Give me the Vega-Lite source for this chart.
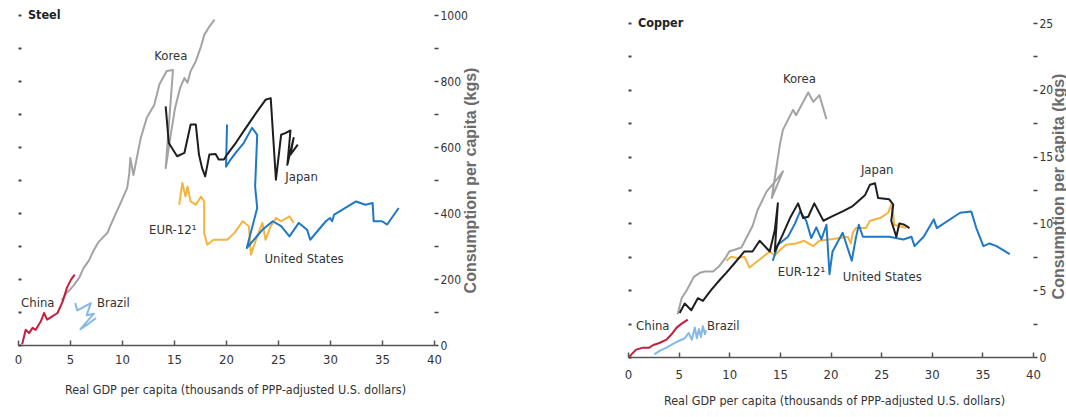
{
  "$schema": "https://vega.github.io/schema/vega-lite/v6.json",
  "padding": {"left": 14, "top": 9, "right": 0, "bottom": 0},
  "bounds": "flush",
  "spacing": 194,
  "config": {
    "view": {"stroke": null},
    "font": "DejaVu Sans Condensed, sans-serif",
    "axis": {
      "grid": false,
      "labelFont": "DejaVu Sans Condensed, sans-serif",
      "labelFontSize": 13,
      "labelColor": "#333333",
      "tickColor": "#444444",
      "domainColor": "#555555",
      "labelOverlap": false,
      "labelFlush": false
    }
  },
  "datasets": {
    "steel": [
      {"country": "Korea", "gdp": 4.2, "kg": 135}, {"country": "Korea", "gdp": 4.6, "kg": 155}, {"country": "Korea", "gdp": 5.0, "kg": 168},
      {"country": "Korea", "gdp": 5.4, "kg": 182}, {"country": "Korea", "gdp": 5.9, "kg": 205}, {"country": "Korea", "gdp": 6.3, "kg": 233},
      {"country": "Korea", "gdp": 6.8, "kg": 255}, {"country": "Korea", "gdp": 7.3, "kg": 288}, {"country": "Korea", "gdp": 7.7, "kg": 310},
      {"country": "Korea", "gdp": 8.1, "kg": 324}, {"country": "Korea", "gdp": 8.6, "kg": 340}, {"country": "Korea", "gdp": 9.0, "kg": 370},
      {"country": "Korea", "gdp": 9.5, "kg": 405}, {"country": "Korea", "gdp": 10.0, "kg": 440}, {"country": "Korea", "gdp": 10.5, "kg": 476},
      {"country": "Korea", "gdp": 10.7, "kg": 520}, {"country": "Korea", "gdp": 10.8, "kg": 567}, {"country": "Korea", "gdp": 11.1, "kg": 515},
      {"country": "Korea", "gdp": 11.8, "kg": 627}, {"country": "Korea", "gdp": 12.4, "kg": 690}, {"country": "Korea", "gdp": 13.1, "kg": 727},
      {"country": "Korea", "gdp": 13.6, "kg": 790}, {"country": "Korea", "gdp": 14.3, "kg": 830}, {"country": "Korea", "gdp": 14.9, "kg": 833},
      {"country": "Korea", "gdp": 14.2, "kg": 536}, {"country": "Korea", "gdp": 14.7, "kg": 640}, {"country": "Korea", "gdp": 15.1, "kg": 718},
      {"country": "Korea", "gdp": 15.6, "kg": 780}, {"country": "Korea", "gdp": 16.0, "kg": 809}, {"country": "Korea", "gdp": 16.3, "kg": 795},
      {"country": "Korea", "gdp": 16.6, "kg": 830}, {"country": "Korea", "gdp": 17.1, "kg": 860}, {"country": "Korea", "gdp": 17.6, "kg": 905},
      {"country": "Korea", "gdp": 17.9, "kg": 939}, {"country": "Korea", "gdp": 18.4, "kg": 965}, {"country": "Korea", "gdp": 18.9, "kg": 986},

      {"country": "EUR-12", "gdp": 15.5, "kg": 425}, {"country": "EUR-12", "gdp": 15.8, "kg": 491}, {"country": "EUR-12", "gdp": 16.1, "kg": 450},
      {"country": "EUR-12", "gdp": 16.3, "kg": 480}, {"country": "EUR-12", "gdp": 16.6, "kg": 435}, {"country": "EUR-12", "gdp": 17.1, "kg": 425},
      {"country": "EUR-12", "gdp": 17.6, "kg": 450}, {"country": "EUR-12", "gdp": 17.9, "kg": 435}, {"country": "EUR-12", "gdp": 17.9, "kg": 339},
      {"country": "EUR-12", "gdp": 18.2, "kg": 304}, {"country": "EUR-12", "gdp": 18.8, "kg": 319}, {"country": "EUR-12", "gdp": 20.1, "kg": 319},
      {"country": "EUR-12", "gdp": 20.8, "kg": 339}, {"country": "EUR-12", "gdp": 21.6, "kg": 375}, {"country": "EUR-12", "gdp": 22.2, "kg": 360},
      {"country": "EUR-12", "gdp": 22.4, "kg": 274}, {"country": "EUR-12", "gdp": 23.0, "kg": 330}, {"country": "EUR-12", "gdp": 23.5, "kg": 370},
      {"country": "EUR-12", "gdp": 23.8, "kg": 319}, {"country": "EUR-12", "gdp": 24.3, "kg": 360}, {"country": "EUR-12", "gdp": 24.8, "kg": 385},
      {"country": "EUR-12", "gdp": 25.3, "kg": 375}, {"country": "EUR-12", "gdp": 26.1, "kg": 390}, {"country": "EUR-12", "gdp": 26.5, "kg": 370},

      {"country": "United States", "gdp": 20.1, "kg": 668}, {"country": "United States", "gdp": 20.0, "kg": 540}, {"country": "United States", "gdp": 20.4, "kg": 560},
      {"country": "United States", "gdp": 21.0, "kg": 585}, {"country": "United States", "gdp": 21.7, "kg": 612}, {"country": "United States", "gdp": 22.5, "kg": 658},
      {"country": "United States", "gdp": 23.0, "kg": 637}, {"country": "United States", "gdp": 22.8, "kg": 480}, {"country": "United States", "gdp": 23.0, "kg": 415},
      {"country": "United States", "gdp": 22.0, "kg": 294}, {"country": "United States", "gdp": 23.5, "kg": 349}, {"country": "United States", "gdp": 24.5, "kg": 375},
      {"country": "United States", "gdp": 25.3, "kg": 360}, {"country": "United States", "gdp": 26.1, "kg": 329}, {"country": "United States", "gdp": 27.0, "kg": 370},
      {"country": "United States", "gdp": 27.8, "kg": 349}, {"country": "United States", "gdp": 28.1, "kg": 319}, {"country": "United States", "gdp": 29.6, "kg": 375},
      {"country": "United States", "gdp": 30.0, "kg": 385}, {"country": "United States", "gdp": 30.2, "kg": 375}, {"country": "United States", "gdp": 30.4, "kg": 395},
      {"country": "United States", "gdp": 31.2, "kg": 410}, {"country": "United States", "gdp": 32.5, "kg": 435}, {"country": "United States", "gdp": 33.4, "kg": 425},
      {"country": "United States", "gdp": 34.1, "kg": 430}, {"country": "United States", "gdp": 34.2, "kg": 375}, {"country": "United States", "gdp": 35.0, "kg": 375},
      {"country": "United States", "gdp": 35.5, "kg": 365}, {"country": "United States", "gdp": 36.6, "kg": 415},

      {"country": "Japan", "gdp": 14.2, "kg": 723}, {"country": "Japan", "gdp": 14.5, "kg": 612}, {"country": "Japan", "gdp": 15.3, "kg": 572},
      {"country": "Japan", "gdp": 16.0, "kg": 582}, {"country": "Japan", "gdp": 16.6, "kg": 668}, {"country": "Japan", "gdp": 17.1, "kg": 668},
      {"country": "Japan", "gdp": 17.4, "kg": 577}, {"country": "Japan", "gdp": 17.7, "kg": 536}, {"country": "Japan", "gdp": 18.0, "kg": 511},
      {"country": "Japan", "gdp": 18.4, "kg": 577}, {"country": "Japan", "gdp": 19.0, "kg": 579}, {"country": "Japan", "gdp": 19.3, "kg": 562},
      {"country": "Japan", "gdp": 19.8, "kg": 562}, {"country": "Japan", "gdp": 20.1, "kg": 577}, {"country": "Japan", "gdp": 21.0, "kg": 615},
      {"country": "Japan", "gdp": 21.7, "kg": 648}, {"country": "Japan", "gdp": 23.0, "kg": 708}, {"country": "Japan", "gdp": 23.8, "kg": 743},
      {"country": "Japan", "gdp": 24.3, "kg": 748}, {"country": "Japan", "gdp": 24.8, "kg": 501}, {"country": "Japan", "gdp": 25.3, "kg": 637},
      {"country": "Japan", "gdp": 25.7, "kg": 642}, {"country": "Japan", "gdp": 26.2, "kg": 650}, {"country": "Japan", "gdp": 25.9, "kg": 546},
      {"country": "Japan", "gdp": 26.5, "kg": 627}, {"country": "Japan", "gdp": 26.2, "kg": 577}, {"country": "Japan", "gdp": 26.9, "kg": 607},

      {"country": "Brazil", "gdp": 5.5, "kg": 127}, {"country": "Brazil", "gdp": 5.7, "kg": 105}, {"country": "Brazil", "gdp": 6.3, "kg": 115},
      {"country": "Brazil", "gdp": 7.0, "kg": 127}, {"country": "Brazil", "gdp": 6.6, "kg": 90}, {"country": "Brazil", "gdp": 7.3, "kg": 95},
      {"country": "Brazil", "gdp": 6.0, "kg": 48}, {"country": "Brazil", "gdp": 6.8, "kg": 65}, {"country": "Brazil", "gdp": 7.5, "kg": 82},

      {"country": "China", "gdp": 0.4, "kg": 2}, {"country": "China", "gdp": 0.74, "kg": 46}, {"country": "China", "gdp": 1.06, "kg": 36},
      {"country": "China", "gdp": 1.4, "kg": 52}, {"country": "China", "gdp": 1.7, "kg": 46}, {"country": "China", "gdp": 2.2, "kg": 72},
      {"country": "China", "gdp": 2.5, "kg": 97}, {"country": "China", "gdp": 2.8, "kg": 77}, {"country": "China", "gdp": 3.3, "kg": 87},
      {"country": "China", "gdp": 3.8, "kg": 97}, {"country": "China", "gdp": 4.3, "kg": 132}, {"country": "China", "gdp": 4.7, "kg": 173},
      {"country": "China", "gdp": 5.1, "kg": 198}, {"country": "China", "gdp": 5.45, "kg": 213}
    ],
    "copper": [
      {"country": "Korea", "gdp": 4.9, "kg": 3.2}, {"country": "Korea", "gdp": 5.3, "kg": 4.4}, {"country": "Korea", "gdp": 5.8, "kg": 5.0},
      {"country": "Korea", "gdp": 6.5, "kg": 6.0}, {"country": "Korea", "gdp": 7.1, "kg": 6.3}, {"country": "Korea", "gdp": 7.6, "kg": 6.4},
      {"country": "Korea", "gdp": 8.4, "kg": 6.4}, {"country": "Korea", "gdp": 9.0, "kg": 6.8}, {"country": "Korea", "gdp": 9.7, "kg": 7.5},
      {"country": "Korea", "gdp": 10.0, "kg": 7.9}, {"country": "Korea", "gdp": 11.2, "kg": 8.2}, {"country": "Korea", "gdp": 12.3, "kg": 9.8},
      {"country": "Korea", "gdp": 12.8, "kg": 11.0}, {"country": "Korea", "gdp": 13.7, "kg": 12.4}, {"country": "Korea", "gdp": 14.5, "kg": 13.1},
      {"country": "Korea", "gdp": 15.3, "kg": 13.9}, {"country": "Korea", "gdp": 14.2, "kg": 11.9}, {"country": "Korea", "gdp": 15.0, "kg": 15.9},
      {"country": "Korea", "gdp": 15.3, "kg": 17.0}, {"country": "Korea", "gdp": 16.3, "kg": 18.5}, {"country": "Korea", "gdp": 16.6, "kg": 18.1},
      {"country": "Korea", "gdp": 17.8, "kg": 19.8}, {"country": "Korea", "gdp": 18.3, "kg": 19.1}, {"country": "Korea", "gdp": 18.9, "kg": 19.6},
      {"country": "Korea", "gdp": 19.6, "kg": 17.8},

      {"country": "EUR-12", "gdp": 9.7, "kg": 7.2}, {"country": "EUR-12", "gdp": 10.2, "kg": 7.5}, {"country": "EUR-12", "gdp": 10.8, "kg": 7.4},
      {"country": "EUR-12", "gdp": 11.5, "kg": 7.5}, {"country": "EUR-12", "gdp": 12.0, "kg": 6.7}, {"country": "EUR-12", "gdp": 12.5, "kg": 7.0},
      {"country": "EUR-12", "gdp": 13.0, "kg": 7.3}, {"country": "EUR-12", "gdp": 14.0, "kg": 7.9}, {"country": "EUR-12", "gdp": 14.5, "kg": 7.6},
      {"country": "EUR-12", "gdp": 15.0, "kg": 8.0}, {"country": "EUR-12", "gdp": 15.6, "kg": 8.4}, {"country": "EUR-12", "gdp": 16.6, "kg": 8.5},
      {"country": "EUR-12", "gdp": 17.4, "kg": 8.7}, {"country": "EUR-12", "gdp": 18.3, "kg": 8.3}, {"country": "EUR-12", "gdp": 18.9, "kg": 8.7},
      {"country": "EUR-12", "gdp": 19.9, "kg": 8.8}, {"country": "EUR-12", "gdp": 20.9, "kg": 8.9}, {"country": "EUR-12", "gdp": 21.7, "kg": 9.0},
      {"country": "EUR-12", "gdp": 22.0, "kg": 8.5}, {"country": "EUR-12", "gdp": 22.2, "kg": 9.3}, {"country": "EUR-12", "gdp": 22.5, "kg": 9.65},
      {"country": "EUR-12", "gdp": 23.5, "kg": 9.65}, {"country": "EUR-12", "gdp": 23.9, "kg": 10.2}, {"country": "EUR-12", "gdp": 24.9, "kg": 10.4},
      {"country": "EUR-12", "gdp": 25.7, "kg": 10.8}, {"country": "EUR-12", "gdp": 26.0, "kg": 11.4}, {"country": "EUR-12", "gdp": 26.2, "kg": 10.6},
      {"country": "EUR-12", "gdp": 26.3, "kg": 9.9}, {"country": "EUR-12", "gdp": 27.5, "kg": 9.65},

      {"country": "United States", "gdp": 14.3, "kg": 7.2}, {"country": "United States", "gdp": 14.8, "kg": 8.4}, {"country": "United States", "gdp": 15.8, "kg": 9.0},
      {"country": "United States", "gdp": 16.5, "kg": 10.0}, {"country": "United States", "gdp": 17.0, "kg": 10.9}, {"country": "United States", "gdp": 17.6, "kg": 10.2},
      {"country": "United States", "gdp": 18.1, "kg": 8.9}, {"country": "United States", "gdp": 18.6, "kg": 9.7}, {"country": "United States", "gdp": 19.1, "kg": 8.8},
      {"country": "United States", "gdp": 19.6, "kg": 9.9}, {"country": "United States", "gdp": 19.9, "kg": 6.2}, {"country": "United States", "gdp": 20.2, "kg": 7.9},
      {"country": "United States", "gdp": 21.2, "kg": 9.3}, {"country": "United States", "gdp": 22.1, "kg": 7.2}, {"country": "United States", "gdp": 22.5, "kg": 8.9},
      {"country": "United States", "gdp": 22.8, "kg": 9.9}, {"country": "United States", "gdp": 23.2, "kg": 9.0}, {"country": "United States", "gdp": 24.5, "kg": 9.0},
      {"country": "United States", "gdp": 25.8, "kg": 9.0}, {"country": "United States", "gdp": 27.2, "kg": 8.8}, {"country": "United States", "gdp": 28.0, "kg": 9.0},
      {"country": "United States", "gdp": 28.3, "kg": 8.3}, {"country": "United States", "gdp": 29.2, "kg": 9.0}, {"country": "United States", "gdp": 30.2, "kg": 10.3},
      {"country": "United States", "gdp": 30.5, "kg": 9.65}, {"country": "United States", "gdp": 32.8, "kg": 10.8}, {"country": "United States", "gdp": 33.9, "kg": 10.9},
      {"country": "United States", "gdp": 34.4, "kg": 9.65}, {"country": "United States", "gdp": 35.1, "kg": 8.3}, {"country": "United States", "gdp": 35.7, "kg": 8.5},
      {"country": "United States", "gdp": 36.4, "kg": 8.3}, {"country": "United States", "gdp": 37.7, "kg": 7.7},

      {"country": "Japan", "gdp": 5.1, "kg": 3.3}, {"country": "Japan", "gdp": 5.6, "kg": 4.0}, {"country": "Japan", "gdp": 6.25, "kg": 3.5},
      {"country": "Japan", "gdp": 6.9, "kg": 4.4}, {"country": "Japan", "gdp": 7.4, "kg": 4.2}, {"country": "Japan", "gdp": 8.2, "kg": 5.0},
      {"country": "Japan", "gdp": 9.1, "kg": 5.8}, {"country": "Japan", "gdp": 9.7, "kg": 6.3}, {"country": "Japan", "gdp": 10.5, "kg": 7.0},
      {"country": "Japan", "gdp": 11.5, "kg": 7.9}, {"country": "Japan", "gdp": 12.3, "kg": 7.9}, {"country": "Japan", "gdp": 13.0, "kg": 8.7},
      {"country": "Japan", "gdp": 14.0, "kg": 7.9}, {"country": "Japan", "gdp": 14.5, "kg": 9.5}, {"country": "Japan", "gdp": 14.8, "kg": 11.5},
      {"country": "Japan", "gdp": 14.5, "kg": 7.9}, {"country": "Japan", "gdp": 15.3, "kg": 9.2}, {"country": "Japan", "gdp": 16.0, "kg": 10.4},
      {"country": "Japan", "gdp": 16.8, "kg": 11.5}, {"country": "Japan", "gdp": 17.3, "kg": 10.4}, {"country": "Japan", "gdp": 17.8, "kg": 10.5},
      {"country": "Japan", "gdp": 18.4, "kg": 11.5}, {"country": "Japan", "gdp": 19.3, "kg": 10.2}, {"country": "Japan", "gdp": 20.1, "kg": 10.5},
      {"country": "Japan", "gdp": 21.2, "kg": 10.9}, {"country": "Japan", "gdp": 22.2, "kg": 11.3}, {"country": "Japan", "gdp": 23.4, "kg": 12.1},
      {"country": "Japan", "gdp": 23.9, "kg": 12.9}, {"country": "Japan", "gdp": 24.4, "kg": 13.0}, {"country": "Japan", "gdp": 24.7, "kg": 11.9},
      {"country": "Japan", "gdp": 25.8, "kg": 11.8}, {"country": "Japan", "gdp": 26.2, "kg": 11.4}, {"country": "Japan", "gdp": 26.0, "kg": 10.2},
      {"country": "Japan", "gdp": 26.5, "kg": 9.0}, {"country": "Japan", "gdp": 26.8, "kg": 10.0}, {"country": "Japan", "gdp": 27.3, "kg": 9.9},
      {"country": "Japan", "gdp": 27.8, "kg": 9.65},

      {"country": "Brazil", "gdp": 2.6, "kg": 0.2}, {"country": "Brazil", "gdp": 3.2, "kg": 0.5}, {"country": "Brazil", "gdp": 3.8, "kg": 0.7},
      {"country": "Brazil", "gdp": 4.5, "kg": 1.0}, {"country": "Brazil", "gdp": 5.0, "kg": 1.2}, {"country": "Brazil", "gdp": 5.6, "kg": 1.4},
      {"country": "Brazil", "gdp": 6.0, "kg": 1.8}, {"country": "Brazil", "gdp": 6.3, "kg": 1.3}, {"country": "Brazil", "gdp": 6.6, "kg": 2.2},
      {"country": "Brazil", "gdp": 6.8, "kg": 1.4}, {"country": "Brazil", "gdp": 7.0, "kg": 2.1}, {"country": "Brazil", "gdp": 7.2, "kg": 1.5},
      {"country": "Brazil", "gdp": 7.4, "kg": 2.3}, {"country": "Brazil", "gdp": 7.6, "kg": 1.7}, {"country": "Brazil", "gdp": 7.7, "kg": 2.0},

      {"country": "China", "gdp": 0.15, "kg": 0.05}, {"country": "China", "gdp": 0.8, "kg": 0.55}, {"country": "China", "gdp": 1.5, "kg": 0.7},
      {"country": "China", "gdp": 2.1, "kg": 0.7}, {"country": "China", "gdp": 2.5, "kg": 0.9}, {"country": "China", "gdp": 3.1, "kg": 1.05},
      {"country": "China", "gdp": 3.8, "kg": 1.3}, {"country": "China", "gdp": 4.3, "kg": 1.7}, {"country": "China", "gdp": 4.8, "kg": 2.2},
      {"country": "China", "gdp": 5.3, "kg": 2.5}, {"country": "China", "gdp": 5.9, "kg": 2.8}
    ],
    "steelNames": [
      {"label": "Korea", "gdp": 13.1, "kg": 877},
      {"label": "Japan", "gdp": 25.7, "kg": 510},
      {"label": "EUR-12¹", "gdp": 12.6, "kg": 348},
      {"label": "United States", "gdp": 23.7, "kg": 262},
      {"label": "China", "gdp": 0.3, "kg": 127},
      {"label": "Brazil", "gdp": 7.6, "kg": 127}
    ],
    "copperNames": [
      {"label": "Korea", "gdp": 15.3, "kg": 20.8},
      {"label": "Japan", "gdp": 23.0, "kg": 14.0},
      {"label": "EUR-12¹", "gdp": 14.8, "kg": 6.4},
      {"label": "United States", "gdp": 21.2, "kg": 6.0},
      {"label": "China", "gdp": 0.8, "kg": 2.3},
      {"label": "Brazil", "gdp": 7.8, "kg": 2.3}
    ]
  },
  "hconcat": [
    {
      "width": 416,
      "height": 330,
      "resolve": {"axis": {"y": "independent"}},
      "layer": [
        {
          "data": {"name": "steel"},
          "mark": {"type": "line", "strokeWidth": 2, "strokeJoin": "round"},
          "encoding": {
            "x": {
              "field": "gdp", "type": "quantitative",
              "scale": {"domain": [0, 40], "nice": false, "zero": false},
              "axis": {
                "values": [0, 2.5, 5, 7.5, 10, 12.5, 15, 17.5, 20, 22.5, 25, 27.5, 30, 32.5, 35, 37.5, 40],
                "labelExpr": "datum.value % 5 == 0 ? datum.label : ''",
                "tickSize": -5, "tickWidth": 1.5, "tickColor": "#555555",
                "domainWidth": 1.5, "labelPadding": 13.5,
                "title": "Real GDP per capita (thousands of PPP-adjusted U.S. dollars)",
                "titleFont": "DejaVu Sans Condensed, sans-serif",
                "titleFontSize": 12.5, "titleFontWeight": "normal", "titleColor": "#333333",
                "titlePadding": 17, "titleX": 217
              }
            },
            "y": {
              "field": "kg", "type": "quantitative",
              "scale": {"domain": [0, 1000], "nice": false},
              "axis": {
                "orient": "right", "format": "d",
                "values": [0, 100, 200, 300, 400, 500, 600, 700, 800, 900, 1000],
                "labelExpr": "datum.value % 200 == 0 ? datum.label : ''",
                "labelFontSize": 12,
                "domain": false, "tickSize": 4, "tickWidth": 1.5, "labelPadding": 2,
                "title": "Consumption per capita (kgs)",
                "titleAngle": 270, "titleBaseline": "top", "titleFont": "Liberation Sans", "titleFontWeight": "bold",
                "titleFontSize": 16, "titleColor": "#6b6b6b", "titlePadding": -5
              }
            },
            "color": {
              "field": "country", "type": "nominal", "legend": null,
              "scale": {
                "domain": ["Korea", "EUR-12", "United States", "Japan", "Brazil", "China"],
                "range": ["#a3a3a3", "#f6b340", "#1f78c6", "#1e1e1e", "#84b9e3", "#c41e3c"]
              }
            },
            "order": {"value": null}
          }
        },
        {
          "data": {"name": "steelNames"},
          "mark": {"type": "text", "align": "left", "baseline": "middle", "fontSize": 13, "color": "#333333"},
          "encoding": {
            "x": {"field": "gdp", "type": "quantitative"},
            "y": {
              "field": "kg", "type": "quantitative",
              "axis": {
                "orient": "left", "values": [0, 100, 200, 300, 400, 500, 600, 700, 800, 900, 1000],
                "labels": false, "domain": false, "tickSize": -3, "tickWidth": 2, "title": null
              }
            },
            "text": {"field": "label"}
          }
        },
        {
          "data": {"values": [{"label": "Steel", "gdp": 0, "kg": 1000}]},
          "mark": {"type": "text", "align": "left", "baseline": "middle", "dx": 10, "fontSize": 12.5, "fontWeight": "bold", "color": "#222222"},
          "encoding": {
            "x": {"field": "gdp", "type": "quantitative"},
            "y": {"field": "kg", "type": "quantitative", "axis": null},
            "text": {"field": "label"}
          }
        }
      ]
    },
    {
      "width": 405,
      "height": 342,
      "resolve": {"axis": {"y": "independent"}},
      "layer": [
        {
          "data": {"name": "copper"},
          "mark": {"type": "line", "strokeWidth": 2, "strokeJoin": "round"},
          "encoding": {
            "x": {
              "field": "gdp", "type": "quantitative",
              "scale": {"domain": [0, 40], "nice": false, "zero": false},
              "axis": {
                "values": [0, 2.5, 5, 7.5, 10, 12.5, 15, 17.5, 20, 22.5, 25, 27.5, 30, 32.5, 35, 37.5, 40],
                "labelExpr": "datum.value % 5 == 0 ? datum.label : ''",
                "tickSize": -5, "tickWidth": 1.5, "tickColor": "#555555",
                "domainWidth": 1.5, "labelPadding": 16,
                "title": "Real GDP per capita (thousands of PPP-adjusted U.S. dollars)",
                "titleFont": "DejaVu Sans Condensed, sans-serif",
                "titleFontSize": 12.5, "titleFontWeight": "normal", "titleColor": "#333333",
                "titlePadding": 13, "titleX": 206
              }
            },
            "y": {
              "field": "kg", "type": "quantitative",
              "scale": {"domain": [0, 25.6], "nice": false},
              "axis": {
                "orient": "right",
                "values": [0, 2.5, 5, 7.5, 10, 12.5, 15, 17.5, 20, 22.5, 25],
                "labelExpr": "datum.value % 5 == 0 ? datum.label : ''",
                "labelFontSize": 12,
                "domain": false, "tickSize": 4, "tickWidth": 1.5, "labelPadding": 2,
                "title": "Consumption per capita (kgs)",
                "titleAngle": 270, "titleBaseline": "top", "titleFont": "Liberation Sans", "titleFontWeight": "bold",
                "titleFontSize": 16, "titleColor": "#6b6b6b", "titlePadding": -2
              }
            },
            "color": {
              "field": "country", "type": "nominal", "legend": null,
              "scale": {
                "domain": ["Korea", "EUR-12", "United States", "Japan", "Brazil", "China"],
                "range": ["#a3a3a3", "#f6b340", "#1f78c6", "#1e1e1e", "#84b9e3", "#c41e3c"]
              }
            },
            "order": {"value": null}
          }
        },
        {
          "data": {"name": "copperNames"},
          "mark": {"type": "text", "align": "left", "baseline": "middle", "fontSize": 13, "color": "#333333"},
          "encoding": {
            "x": {"field": "gdp", "type": "quantitative"},
            "y": {
              "field": "kg", "type": "quantitative",
              "axis": {
                "orient": "left", "values": [0, 2.5, 5, 7.5, 10, 12.5, 15, 17.5, 20, 22.5, 25],
                "labels": false, "domain": false, "tickSize": -3, "tickWidth": 2, "title": null
              }
            },
            "text": {"field": "label"}
          }
        },
        {
          "data": {"values": [{"label": "Copper", "gdp": 0, "kg": 25}]},
          "mark": {"type": "text", "align": "left", "baseline": "middle", "dx": 10, "fontSize": 12.5, "fontWeight": "bold", "color": "#222222"},
          "encoding": {
            "x": {"field": "gdp", "type": "quantitative"},
            "y": {"field": "kg", "type": "quantitative", "axis": null},
            "text": {"field": "label"}
          }
        }
      ]
    }
  ]
}
